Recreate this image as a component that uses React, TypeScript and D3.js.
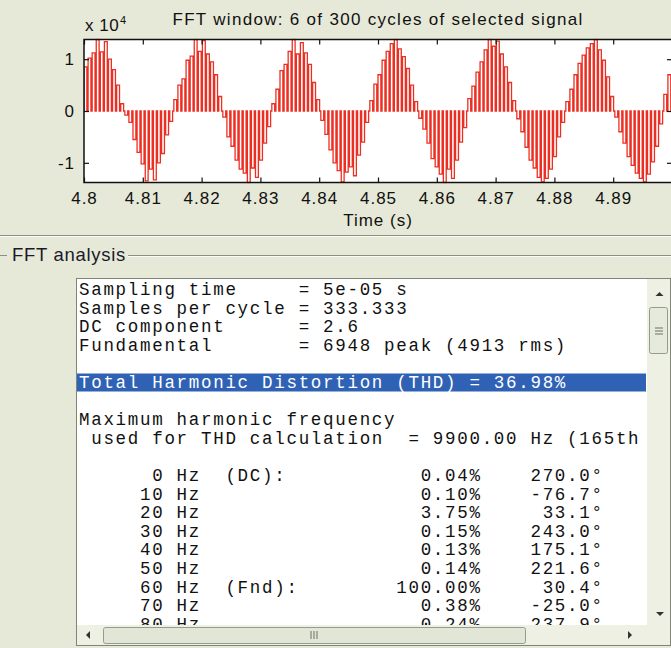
import React, { useEffect, useRef } from 'react';
import * as d3 from 'd3';

// signal window shown in the scope (seconds), one level per switching period (x 10^4)
const timeDomain = [4.8, 4.9];
const signalStart = 4.8;
const switchPeriod = 1 / 1440;
const pulseLevels = [
  // + half (already under way at 4.8 s)
  0.85, 1.02, 1.12, 1.38, 1.14, 1.34, 1.0, 0.8, 0.5, 0.14,
  // -
  -0.08, -0.22, -0.55, -0.8, -1.02, -1.35, -1.12, -1.33, -1.0, -0.82, -0.46, -0.2,
  // +
  0.22, 0.5, 0.62, 0.98, 1.06, 1.38, 1.15, 1.36, 1.1, 0.95, 0.7, 0.28,
  // -
  -0.12, -0.5, -0.68, -0.95, -1.12, -1.2, -1.38, -1.1, -1.28, -0.95, -0.62, -0.3,
  // +
  0.14, 0.42, 0.78, 0.9, 1.15, 1.38, 1.1, 1.32, 1.12, 0.9, 0.55, 0.22,
  // -
  -0.18, -0.45, -0.75, -1.0, -1.15, -1.37, -1.18, -1.08, -1.25, -0.85, -0.6, -0.22,
  // +
  0.2, 0.52, 0.7, 0.98, 1.15, 1.3, 1.38, 1.2, 1.05, 0.82, 0.5, 0.18,
  // -
  -0.14, -0.35, -0.62, -0.92, -1.08, -1.22, -1.38, -1.12, -1.3, -0.95, -0.6, -0.32,
  // +
  0.24, 0.48, 0.75, 0.95, 1.18, 1.38, 1.25, 1.35, 1.1, 0.85, 0.55, 0.2,
  // -
  -0.15, -0.4, -0.7, -0.95, -1.1, -1.28, -1.37, -1.3, -1.12, -0.88, -0.5, -0.22,
  // +
  0.18, 0.42, 0.7, 0.92, 1.08, 1.22, 1.3, 1.38, 1.18, 0.98, 0.66, 0.28,
  // -
  -0.12, -0.4, -0.62, -0.88, -1.05, -1.2, -1.3, -1.37, -1.22, -0.98, -0.68, -0.25,
  // + (next cycle starts)
  0.32, 0.7,
];
const xTicks = [4.8, 4.81, 4.82, 4.83, 4.84, 4.85, 4.86, 4.87, 4.88, 4.89];
const yTicks = [-1, 0, 1];

// FFT analysis listing
const infoLabels = ['Sampling time', 'Samples per cycle', 'DC component', 'Fundamental'];
const infoValues = ['5e-05 s', '333.333', '2.6', '6948 peak (4913 rms)'];
const thdPercent = 36.98;
const maxHarmonicFreq = 9900;
const maxHarmonicOrder = 165;
const harmonicFreqs = [0, 10, 20, 30, 40, 50, 60, 70, 80];
const harmonicNotes = ['(DC):', '', '', '', '', '', '(Fnd):', '', ''];
const harmonicPercents = [0.04, 0.1, 3.75, 0.15, 0.13, 0.14, 100.0, 0.38, 0.24];
const harmonicPhases = [270.0, -76.7, 33.1, 243.0, 175.1, 221.6, 30.4, -25.0, 237.9];

const W = 671;
const H = 648;
const plot = { left: 84, right: 672, top: 39.5, bottom: 182.5 };
const notch = 0.3; // fraction of each switching period spent at zero
const sans = '"Liberation Sans", Arial, sans-serif';
const mono = '"Liberation Mono", "Courier New", monospace';
const bg = '#e6e9d8';

const box = { left: 76.5, top: 278.5, right: 670.5, bottom: 645.5 };
const rowTop = 295;
const rowStep = 18.6;

function listingRows() {
  const rows: { text: string; highlight?: boolean }[] = [];
  infoLabels.forEach((l, i) => rows.push({ text: l.padEnd(18) + '= ' + infoValues[i] }));
  rows.push({ text: '' });
  rows.push({ text: `Total Harmonic Distortion (THD) = ${thdPercent.toFixed(2)}%`, highlight: true });
  rows.push({ text: '' });
  rows.push({ text: 'Maximum harmonic frequency' });
  // the list box only shows the line up to the harmonic order
  rows.push({ text: ` used for THD calculation  = ${maxHarmonicFreq.toFixed(2)} Hz (${maxHarmonicOrder}th` });
  rows.push({ text: '' });
  harmonicFreqs.forEach((f, i) => {
    rows.push({
      text:
        String(f).padStart(7) +
        ' Hz  ' +
        harmonicNotes[i].padEnd(6) +
        (harmonicPercents[i].toFixed(2) + '%').padStart(15) +
        (harmonicPhases[i].toFixed(1) + '°').padStart(10),
    });
  });
  return rows;
}

function Chart() {
  const ref = useRef<SVGGElement>(null);

  useEffect(() => {
    const g = d3.select(ref.current);
    g.selectAll('*').remove();

    const x = d3.scaleLinear().domain(timeDomain).range([plot.left, plot.right]);
    const y = d3
      .scaleLinear()
      .domain(d3.extent(pulseLevels) as [number, number])
      .range([plot.bottom, plot.top]);

    g.append('rect')
      .attr('x', plot.left)
      .attr('y', plot.top)
      .attr('width', plot.right - plot.left)
      .attr('height', plot.bottom - plot.top)
      .attr('fill', '#fff');

    g.append('clipPath')
      .attr('id', 'plotClip')
      .append('rect')
      .attr('x', plot.left)
      .attr('y', plot.top - 1)
      .attr('width', plot.right - plot.left)
      .attr('height', plot.bottom - plot.top + 2);

    const pts: [number, number][] = [];
    pulseLevels.forEach((v, i) => {
      const t = signalStart + i * switchPeriod;
      const tOff = t + (1 - notch) * switchPeriod;
      pts.push([t, 0], [t, v], [tOff, v], [tOff, 0]);
    });

    const line = d3
      .line<[number, number]>()
      .x((d) => x(d[0]))
      .y((d) => y(d[1]));

    g.append('path')
      .datum(pts)
      .attr('clip-path', 'url(#plotClip)')
      .attr('fill', 'none')
      .attr('stroke', '#ec2f23')
      .attr('stroke-width', 1.3)
      .attr('d', line);

    const styleAxis = (sel: any) => {
      sel.select('.domain').remove();
      sel.selectAll('line').attr('stroke', '#111').attr('stroke-width', 1.2);
      sel.attr('font-family', sans).attr('font-size', 17);
      sel.selectAll('text').attr('fill', '#111').attr('letter-spacing', 1);
    };

    g.append('g')
      .attr('transform', `translate(0,${plot.bottom})`)
      .call(
        d3
          .axisBottom(x)
          .tickValues(xTicks)
          .tickSizeInner(-5)
          .tickSizeOuter(0)
          .tickPadding(9)
          .tickFormat(d3.format('~g'))
      )
      .call(styleAxis);
    g.append('g')
      .attr('transform', `translate(0,${plot.top})`)
      .call(d3.axisTop(x).tickValues(xTicks).tickSizeInner(-5).tickSizeOuter(0).tickFormat(() => ''))
      .call(styleAxis);
    g.append('g')
      .attr('transform', `translate(${plot.left},0)`)
      .call(
        d3
          .axisLeft(y)
          .tickValues(yTicks)
          .tickSizeInner(-5)
          .tickSizeOuter(0)
          .tickPadding(9)
          .tickFormat((d) => String(d))
      )
      .call(styleAxis);
    g.append('g')
      .attr('transform', `translate(${plot.right},0)`)
      .call(d3.axisRight(y).tickValues(yTicks).tickSizeInner(-5).tickSizeOuter(0).tickFormat(() => ''))
      .call(styleAxis);

    g.append('rect')
      .attr('x', plot.left)
      .attr('y', plot.top)
      .attr('width', plot.right - plot.left)
      .attr('height', plot.bottom - plot.top)
      .attr('fill', 'none')
      .attr('stroke', '#111')
      .attr('stroke-width', 1.5);

    const mid = (plot.left + plot.right) / 2;
    g.append('text')
      .attr('x', mid)
      .attr('y', 25)
      .attr('text-anchor', 'middle')
      .attr('font-family', sans)
      .attr('font-size', 17)
      .attr('letter-spacing', 1.3)
      .attr('fill', '#111')
      .text('FFT window: 6 of 300 cycles of selected signal');

    g.append('text')
      .attr('x', mid)
      .attr('y', 226)
      .attr('text-anchor', 'middle')
      .attr('font-family', sans)
      .attr('font-size', 17)
      .attr('letter-spacing', 1)
      .attr('fill', '#111')
      .text('Time (s)');

    g.append('text')
      .attr('x', plot.left + 1)
      .attr('y', 30.5)
      .attr('font-family', sans)
      .attr('font-size', 17)
      .attr('letter-spacing', 0.5)
      .attr('fill', '#111')
      .text('x 10');
    g.append('text')
      .attr('x', 120)
      .attr('y', 23.5)
      .attr('font-family', sans)
      .attr('font-size', 11)
      .attr('fill', '#111')
      .text('4');
  }, []);

  return <g ref={ref} />;
}

function Listing() {
  const rows = listingRows();
  const inner = { left: box.left + 0.5, top: box.top + 0.5, right: 647, bottom: 625 };
  const tri = (pts: number[][]) => pts.map((p) => p.join(',')).join(' ');
  return (
    <g>
      <rect
        x={box.left}
        y={box.top}
        width={box.right - box.left}
        height={box.bottom - box.top}
        fill="#fff"
        stroke="#7f8679"
      />
      <clipPath id="listClip">
        <rect x={inner.left} y={inner.top} width={inner.right - inner.left} height={inner.bottom - inner.top} />
      </clipPath>
      <g clipPath="url(#listClip)">
        {rows.map((r, i) =>
          r.highlight ? (
            <rect
              key={'h' + i}
              x={inner.left}
              y={rowTop + i * rowStep - 14.5}
              width={569}
              height={18}
              fill="#2f62b5"
            />
          ) : null
        )}
        {rows.map((r, i) => (
          <text
            key={i}
            x={79}
            y={rowTop + i * rowStep}
            fontFamily={mono}
            fontSize={17.5}
            letterSpacing={1.7}
            fill={r.highlight ? '#fff' : '#111'}
            style={{ whiteSpace: 'pre' }}
          >
            {r.text}
          </text>
        ))}
      </g>
      {/* vertical scrollbar */}
      <rect x={647} y={inner.top} width={23} height={inner.bottom - inner.top} fill="#eef0e4" />
      <polygon points={tri([[655.5, 296], [663.5, 296], [659.5, 292]])} fill="#333" />
      <rect x={649.5} y={307.5} width={18} height={46} rx={2} fill="#e6eadc" stroke="#959c8c" />
      {[328, 331, 334].map((yy) => (
        <line key={yy} x1={655} x2={663} y1={yy} y2={yy} stroke="#6a7066" />
      ))}
      <polygon points={tri([[656, 612], [664, 612], [660, 616]])} fill="#333" />
      {/* horizontal scrollbar */}
      <rect x={inner.left} y={625} width={647 - inner.left} height={20} fill="#eef0e4" />
      <rect x={647} y={625} width={23} height={20} fill="#eef0e4" />
      <polygon points={tri([[90, 631], [90, 639], [86, 635]])} fill="#333" />
      <rect x={103.5} y={627.5} width={422} height={16} rx={2} fill="#e2e6d6" stroke="#959c8c" />
      {[311, 314, 317].map((xx) => (
        <line key={xx} x1={xx} x2={xx} y1={631} y2={639} stroke="#6a7066" />
      ))}
      <polygon points={tri([[628, 631], [628, 639], [632, 635]])} fill="#333" />
    </g>
  );
}

export default function App() {
  return (
    <svg
      width={W}
      height={H}
      viewBox={`0 0 ${W} ${H}`}
      style={{ position: 'absolute', left: 0, top: 0, display: 'block' }}
    >
      <rect width={W} height={H} fill={bg} />
      <Chart />
      {/* separator under the plot */}
      <line x1={0} x2={W} y1={235.5} y2={235.5} stroke="#8c8f82" />
      <line x1={0} x2={W} y1={236.5} y2={236.5} stroke="#fafbf4" />
      {/* FFT analysis group box */}
      <line x1={0} x2={7} y1={255.5} y2={255.5} stroke="#8c8f82" />
      <line x1={128} x2={W} y1={255.5} y2={255.5} stroke="#8c8f82" />
      <line x1={128} x2={W} y1={256.5} y2={256.5} stroke="#fafbf4" />
      <text x={12} y={261} fontFamily={sans} fontSize={18.5} letterSpacing={0.7} fill="#1a1a2a">
        FFT analysis
      </text>
      <Listing />
    </svg>
  );
}
